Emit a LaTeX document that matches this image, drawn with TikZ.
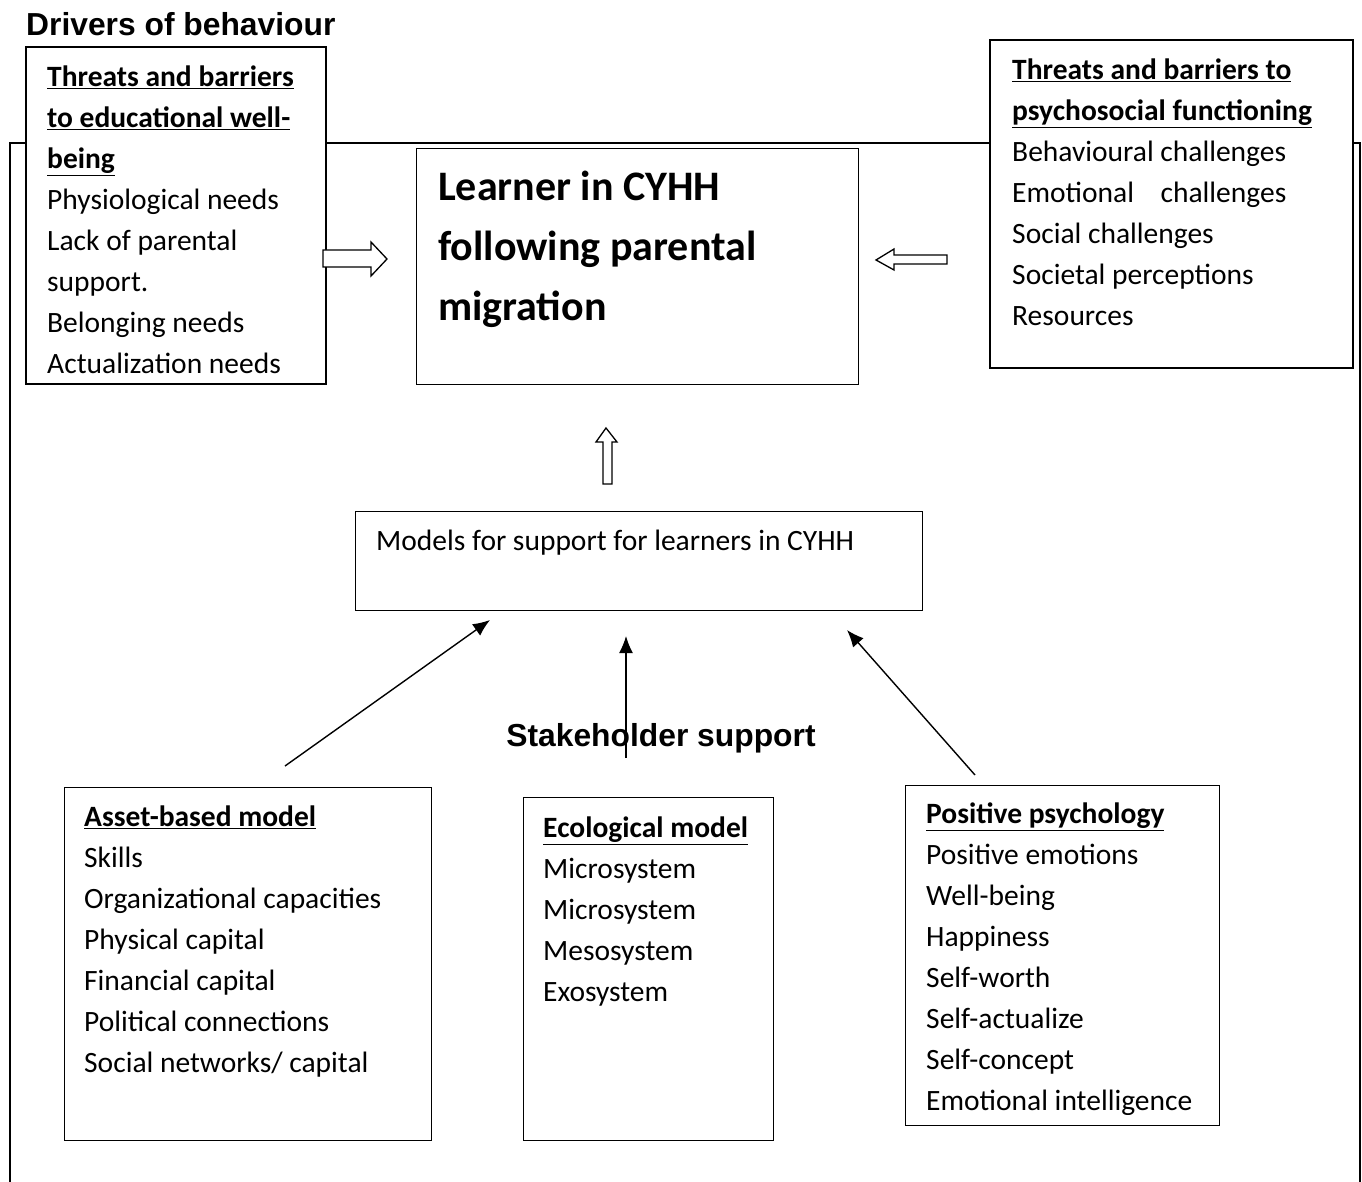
\documentclass[tikz,border=0pt]{standalone}
\usepackage{fontspec}
\usetikzlibrary{arrows.meta}
\setmainfont{Carlito}
\newfontfamily\arialfont{Liberation Sans}
\begin{document}
\begin{tikzpicture}[x=1pt,y=-1pt,
  frame/.style={draw, line width=1.4pt},
  boxline/.style={draw, line width=1.2pt},
  body/.style={anchor=north west, inner sep=0pt, align=left,
    font=\fontsize{29.5}{41}\selectfont},
  bigbody/.style={anchor=north west, inner sep=0pt, align=left,
    font=\fontsize{42}{60}\selectfont\bfseries},
  heading/.style={inner sep=0pt, font=\arialfont\fontsize{31.8}{36}\selectfont\bfseries},
  hollow/.style={draw, line width=1.3pt, fill=white, line join=miter},
  solidarrow/.style={draw, line width=1.4pt, -{Latex[length=17pt,width=14pt]}}
]
\useasboundingbox (0,0) rectangle (1362,1182);

% surrounding frame, open at the bottom
\draw[frame] (26,143) -- (10,143) -- (10,1182);
\draw[frame] (326,143) -- (990,143);
\draw[frame] (1353,143) -- (1360,143) -- (1360,1182);

% title
\node[heading, anchor=west] (title) at (26,24) {Drivers of behaviour};

% left box: educational well-being
\draw[boxline, fill=white] (26,47) rectangle (326,384);
\node[body] (edu) at (47,66) {\textbf{\underline{Threats and barriers}}\\
\textbf{\underline{to educational well-}}\\
\textbf{\underline{being}}\\
Physiological needs\\
Lack of parental\\
support.\\
Belonging needs\\
Actualization needs};

% right box: psychosocial functioning
\draw[boxline, fill=white] (990,40) rectangle (1353,368);
\node[body] (psy) at (1012,59) {\textbf{\underline{Threats and barriers to}}\\
\textbf{\underline{psychosocial functioning}}\\
Behavioural challenges\\
Emotional\hspace{0.9em}challenges\\
Social challenges\\
Societal perceptions\\
Resources};

% central learner box
\node[boxline, minimum width=442pt, minimum height=236pt, anchor=north west] (learner) at (416,148) {};
\node[bigbody] (learnertxt) at (438,171) {Learner in CYHH\\following parental\\migration};

% hollow arrow pointing right
\draw[hollow] (323,250) -- (371,250) -- (371,242) -- (387,259) -- (371,276) -- (371,267) -- (323,267) -- cycle;
% hollow arrow pointing left
\draw[hollow] (947,255) -- (894,255) -- (894,249) -- (876,260) -- (894,270) -- (894,264) -- (947,264) -- cycle;
% hollow arrow pointing up
\draw[hollow] (603,484) -- (603,442) -- (596,442) -- (606,428) -- (617,442) -- (612,442) -- (612,484) -- cycle;

% models box
\node[boxline, minimum width=567pt, minimum height=99pt, anchor=north west] (models) at (355,511) {};
\node[body] (modelstxt) at (376,530) {Models for support for learners in CYHH};

% stakeholder label
\node[heading] (stake) at (661,738) {Stakeholder support};

% three model boxes
\node[boxline, minimum width=367pt, minimum height=353pt, anchor=north west] (asset) at (64,787) {};
\node[body] (assettxt) at (84,806) {\textbf{\underline{Asset-based model}}\\
Skills\\
Organizational capacities\\
Physical capital\\
Financial capital\\
Political connections\\
Social networks/ capital};

\node[boxline, minimum width=250pt, minimum height=343pt, anchor=north west] (eco) at (523,797) {};
\node[body] (ecotxt) at (543,817) {\textbf{\underline{Ecological model}}\\
Microsystem\\
Microsystem\\
Mesosystem\\
Exosystem};

\node[boxline, minimum width=314pt, minimum height=340pt, anchor=north west] (pos) at (905,785) {};
% the last line is cut off just above the box's lower edge
\begin{scope}
  \clip (905,785) rectangle (1219,1114);
  \node[body] (postxt) at (926,803) {\textbf{\underline{Positive psychology}}\\
Positive emotions\\
Well-being\\
Happiness\\
Self-worth\\
Self-actualize\\
Self-concept\\
Emotional intelligence};
\end{scope}

% arrows from the models up to the support box
\coordinate (a1) at (285,766);
\coordinate (a1e) at (490,620);
\coordinate (a2) at (626,758);
\coordinate (a2e) at (626,636);
\coordinate (a3) at (975,775);
\coordinate (a3e) at (847,630);
\draw[solidarrow] (a1) -- (a1e);
\draw[solidarrow] (a2) -- (a2e);
\draw[solidarrow] (a3) -- (a3e);
\end{tikzpicture}
\end{document}
